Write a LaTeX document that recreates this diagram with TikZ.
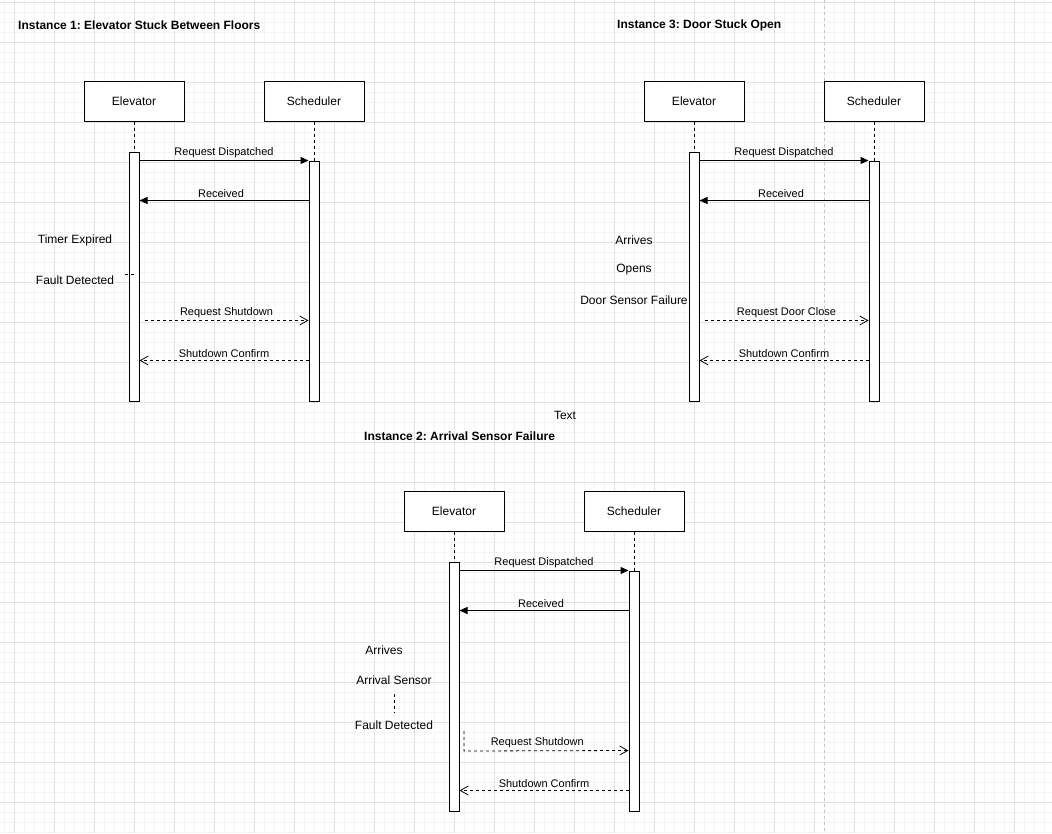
\documentclass[tikz,border=0pt]{standalone}
\usepackage{fontspec}
\setmainfont{Liberation Sans}
\usetikzlibrary{arrows.meta}
\frenchspacing
\definecolor{minorgrid}{HTML}{F4F4F4}
\definecolor{majorgrid}{HTML}{E2E2E2}
\tikzset{
  box/.style={draw, line width=1pt, fill=white, minimum width=100pt, minimum height=40pt, font=\fontsize{12}{14}\selectfont},
  bar/.style={draw, line width=1pt, fill=white, minimum width=10pt, inner sep=0pt},
  life/.style={line width=0.8pt, dash pattern=on 3pt off 3pt},
  call/.style={line width=1pt, -{Triangle[length=8pt,width=7pt]}},
  back/.style={line width=0.8pt, dash pattern=on 3pt off 3pt, -{Straight Barb[length=8pt,width=9pt]}},
  lbl/.style={font=\fontsize{11}{13}\selectfont, inner sep=2.5pt},
  note/.style={font=\fontsize{12}{14}\selectfont, inner sep=0pt},
  title/.style={font=\bfseries\fontsize{12}{14}\selectfont, inner sep=0pt, anchor=west}
}
\begin{document}
\begin{tikzpicture}[x=1pt,y=-1pt]
  \useasboundingbox (0,0) rectangle (1052,833);
  \fill [white] (0,0) rectangle (1052,833);
  % grid
  \foreach \x in {4,14,...,1052} \draw [minorgrid, line width=1pt] (\x,0) -- (\x,833);
  \foreach \y in {2,12,...,833} \draw [minorgrid, line width=1pt] (0,\y) -- (1052,\y);
  \foreach \x in {14,54,...,1052} \draw [majorgrid, line width=1pt] (\x,0) -- (\x,833);
  \foreach \y in {2,42,...,833} \draw [majorgrid, line width=1pt] (0,\y) -- (1052,\y);
  \draw [gray!45, line width=0.8pt, dash pattern=on 3pt off 3pt] (824,0) -- (824,833);

  % instance 1
  \node [title] (title1) at (18,25) {Instance 1: Elevator Stuck Between Floors};
  \node [box] (elev1) at (134,101) {Elevator};
  \node [box] (sched1) at (314,101) {Scheduler};
  \node [bar, minimum height=249pt] (elevbar1) at (134,276.5) {};
  \node [bar, minimum height=240pt] (schedbar1) at (314,281) {};
  \draw [life] (elev1.south) -- (elevbar1.north);
  \draw [life] (sched1.south) -- (schedbar1.north);
  \draw [call] ([yshift=-9pt]elevbar1.north east) -- node [lbl, above] {Request Dispatched} (schedbar1.north west);
  \draw [call] ([yshift=-40pt]schedbar1.north west) -- node [lbl, above, xshift=-3pt] {Received} ([yshift=-49pt]elevbar1.north east);
  \node [note] (timer1) at (75,240) {Timer Expired};
  \node [note] (fault1) at (75,280) {Fault Detected};
  \coordinate (stub1) at (125,274);
  \draw [life] (stub1) -- (elevbar1.center |- stub1);
  \draw [back] ([xshift=5pt,yshift=-169pt]elevbar1.north east) -- node [lbl, above] {Request Shutdown} ([yshift=-160pt]schedbar1.north west);
  \draw [back] ([yshift=-200pt]schedbar1.north west) -- node [lbl, above] {Shutdown Confirm} ([yshift=-209pt]elevbar1.north east);

  % instance 3
  \node [title] (title3) at (617,25) {Instance 3: Door Stuck Open};
  \node [box] (elev3) at (694,101) {Elevator};
  \node [box] (sched3) at (874,101) {Scheduler};
  \node [bar, minimum height=249pt] (elevbar3) at (694,276.5) {};
  \node [bar, minimum height=240pt] (schedbar3) at (874,281) {};
  \draw [life] (elev3.south) -- (elevbar3.north);
  \draw [life] (sched3.south) -- (schedbar3.north);
  \draw [call] ([yshift=-9pt]elevbar3.north east) -- node [lbl, above] {Request Dispatched} (schedbar3.north west);
  \draw [call] ([yshift=-40pt]schedbar3.north west) -- node [lbl, above, xshift=-3pt] {Received} ([yshift=-49pt]elevbar3.north east);
  \node [note] (arrive3) at (634,240) {Arrives};
  \node [note] (open3) at (634,270) {Opens};
  \node [note] (door3) at (634,300) {Door Sensor Failure};
  \draw [back] ([xshift=5pt,yshift=-169pt]elevbar3.north east) -- node [lbl, above] {Request Door Close} ([yshift=-160pt]schedbar3.north west);
  \draw [back] ([yshift=-200pt]schedbar3.north west) -- node [lbl, above] {Shutdown Confirm} ([yshift=-209pt]elevbar3.north east);

  \node [note] (text) at (565,415) {Text};

  % instance 2
  \node [title] (title2) at (364,436) {Instance 2: Arrival Sensor Failure};
  \node [box] (elev2) at (454,511) {Elevator};
  \node [box] (sched2) at (634,511) {Scheduler};
  \node [bar, minimum height=249pt] (elevbar2) at (454,686.5) {};
  \node [bar, minimum height=240pt] (schedbar2) at (634,691) {};
  \draw [life] (elev2.south) -- (elevbar2.north);
  \draw [life] (sched2.south) -- (schedbar2.north);
  \draw [call] ([yshift=-9pt]elevbar2.north east) -- node [lbl, above] {Request Dispatched} (schedbar2.north west);
  \draw [call] ([yshift=-40pt]schedbar2.north west) -- node [lbl, above, xshift=-3pt] {Received} ([yshift=-49pt]elevbar2.north east);
  \node [note] (arrive2) at (384,650) {Arrives};
  \node [note] (sensor2) at (394,680) {Arrival Sensor};
  \node [note] (fault2) at (394,725) {Fault Detected};
  \draw [life] ([yshift=-9pt]sensor2.south) -- ([yshift=7pt]fault2.north);
  \coordinate (start2) at (464,731);
  \draw [back] (start2) -- ([yshift=-20pt]start2) -- node [lbl, above, xshift=-9pt] {Request Shutdown} ([yshift=-180pt]schedbar2.north west);
  \draw [back] ([yshift=-220pt]schedbar2.north west) -- node [lbl, above] {Shutdown Confirm} ([yshift=-229pt]elevbar2.north east);
\end{tikzpicture}
\end{document}
